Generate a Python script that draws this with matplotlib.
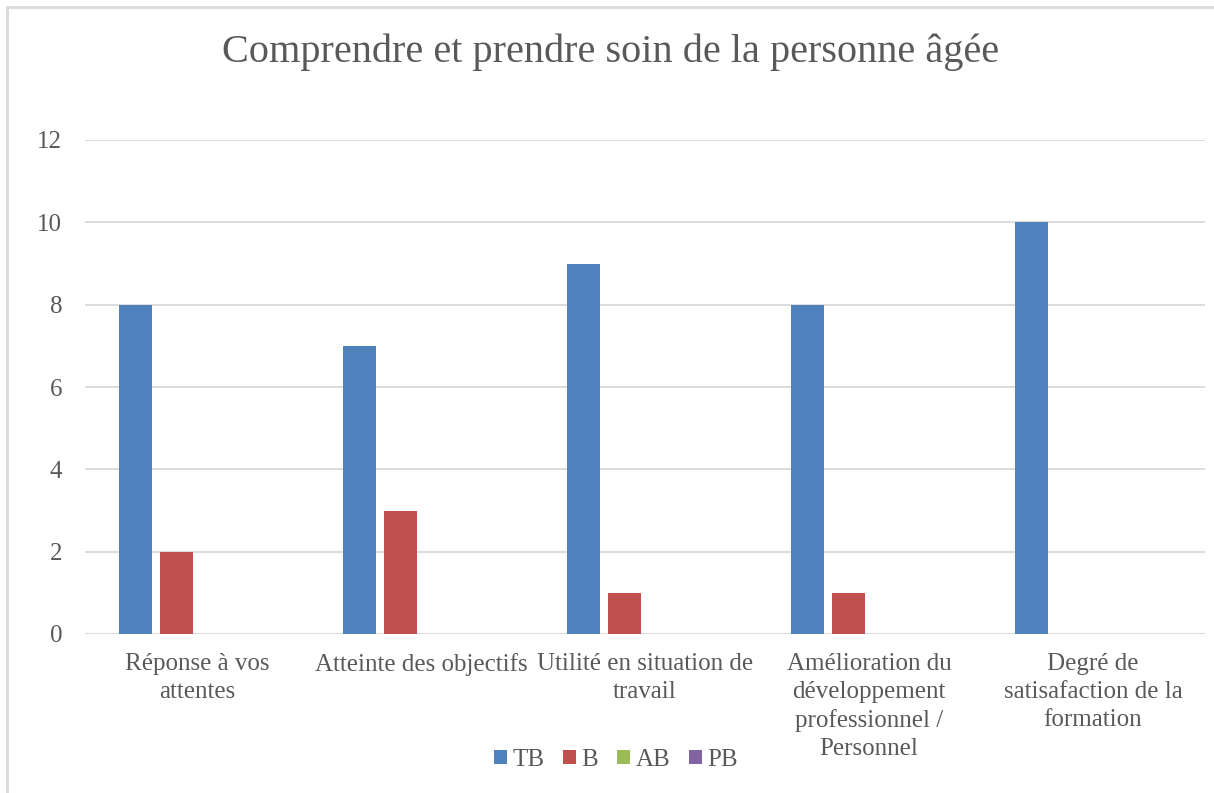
import matplotlib.pyplot as plt
import numpy as np
from matplotlib.patches import Rectangle

# Données du graphique
categories = ["Réponse à vos\nattentes", "Atteinte des objectifs", "Utilité en situation de\ntravail",
              "Amélioration du\ndéveloppement\nprofessionnel /\nPersonnel", "Degré de\nsatisafaction de la\nformation"]
series = ["TB", "B", "AB", "PB"]
tb = [8, 7, 9, 8, 10]
b = [2, 3, 1, 1, 0]
ab = [0, 0, 0, 0, 0]
pb = [0, 0, 0, 0, 0]
couleurs = ["#4f81bd", "#c0504d", "#9bbb59", "#8064a2"]

gris = "#595959"
plt.rcParams["font.family"] = ["Liberation Serif", "DejaVu Serif"]

fig = plt.figure(figsize=(12.14, 7.93), dpi=100)
ax = fig.add_axes([85 / 1214, 1 - 634 / 793, 1120 / 1214, 494 / 793])

x = np.arange(len(categories))
largeur = 0.143
pas = 0.183
for i, (nom, vals) in enumerate(zip(series, [tb, b, ab, pb])):
    ax.bar(x + (i - 1.5) * pas, vals, largeur, color=couleurs[i], label=nom, zorder=3)

ax.set_xlim(-0.5, 4.5)
ax.set_ylim(0, 12)
ax.set_yticks(range(0, 13, 2))
ax.grid(axis="y", color="#d9d9d9", linewidth=1.3, zorder=0)
for s in ax.spines.values():
    s.set_visible(False)
ax.tick_params(axis="both", length=0, labelsize=18, colors=gris)
ax.tick_params(axis="y", pad=16.5)
ax.tick_params(axis="x", pad=14)
ax.set_xticks(x)
ax.set_xticklabels(categories, linespacing=1.34)

fig.text(0.5 * (222 + 1000) / 1214, 1 - 52 / 793, "Comprendre et prendre soin de la personne âgée",
         ha="center", va="center", fontsize=29, color=gris)

leg = fig.legend(loc="center", bbox_to_anchor=(616 / 1214, 1 - 760 / 793), ncol=4, frameon=False,
                 fontsize=18, handlelength=0.52, handleheight=0.52, handletextpad=0.22, columnspacing=0.75,
                 labelcolor=gris)

# cadre du graphique
fig.patches.append(Rectangle((7 / 1214, -0.1), 1.2, 1 - 7 / 793 + 0.1, transform=fig.transFigure,
                             fill=False, edgecolor="#d9d9d9", linewidth=2))

fig.savefig("out.png", dpi=100)
